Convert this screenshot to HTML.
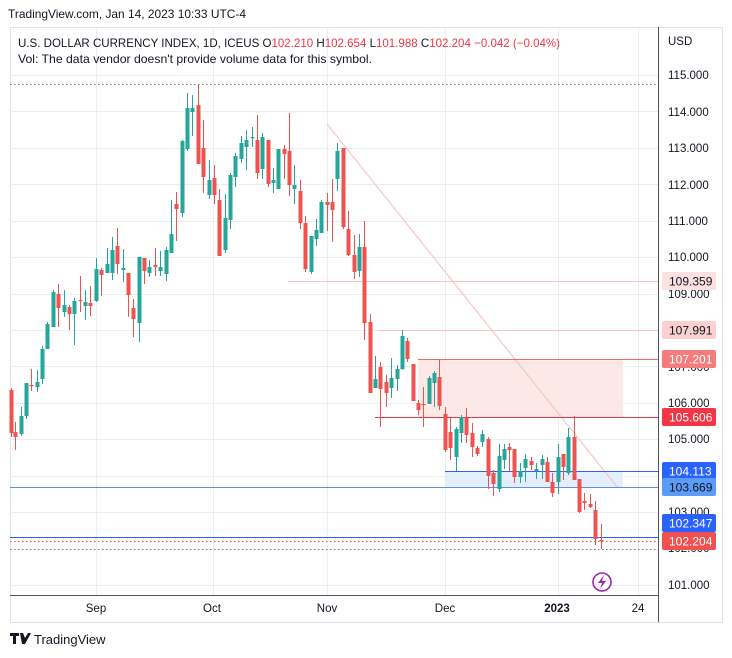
<!DOCTYPE html>
<html><head><meta charset="utf-8"><style>
html,body{margin:0;padding:0;background:#fff;width:732px;height:658px;overflow:hidden}
svg{display:block;font-family:"Liberation Sans",sans-serif}
</style></head><body>
<svg id="s" width="732" height="658" viewBox="0 0 732 658" xmlns="http://www.w3.org/2000/svg">
<rect width="732" height="658" fill="#fff"/>
<text x="8" y="18" font-size="12" fill="#131722" textLength="238" lengthAdjust="spacingAndGlyphs">TradingView.com, Jan 14, 2023 10:33 UTC-4</text>
<rect x="10.5" y="27.5" width="712" height="595" fill="none" stroke="#e0e3eb"/>
<g id="grid" stroke="#e9eef3" stroke-width="1"></g>
<rect x="418" y="359" width="205" height="58" fill="#fde8e8"/>
<rect x="445" y="471" width="178" height="16" fill="#e3effd"/>
<line x1="327" y1="124" x2="618" y2="488" stroke="#f7c5c5" stroke-width="1.2"/>
<line x1="10" y1="84.5" x2="658" y2="84.5" stroke="#787b86" stroke-dasharray="1.5,2.5"/>
<line x1="288" y1="281.5" x2="658" y2="281.5" stroke="#f8c4c4"/>
<line x1="378" y1="330.5" x2="658" y2="330.5" stroke="#f8c4c4"/>
<line x1="418" y1="359.5" x2="658" y2="359.5" stroke="#ef6b6b"/>
<line x1="375" y1="417.5" x2="658" y2="417.5" stroke="#e53945"/>
<line x1="445" y1="471.5" x2="658" y2="471.5" stroke="#2962ff"/>
<line x1="10" y1="487.5" x2="658" y2="487.5" stroke="#5b8fe6"/>
<line x1="10" y1="537.5" x2="658" y2="537.5" stroke="#2962ff"/>
<line x1="10" y1="541.5" x2="658" y2="541.5" stroke="#f0504f" stroke-dasharray="1.5,2.5"/>
<line x1="10" y1="549.5" x2="658" y2="549.5" stroke="#787b86" stroke-dasharray="1.5,2.5"/>
<g id="c"></g>
<line x1="10" y1="595.5" x2="658" y2="595.5" stroke="#50535e"/>
<line x1="658.5" y1="27" x2="658.5" y2="622" stroke="#50535e"/>
<g font-size="11.5" fill="#131722" id="ax"></g>
<g font-size="11.5" fill="#131722" text-anchor="middle">
<text x="96" y="612">Sep</text><text x="212" y="612">Oct</text><text x="327" y="612">Nov</text><text x="445" y="612">Dec</text><text x="557" y="612" font-weight="bold">2023</text><text x="638" y="612">24</text>
</g>
<text x="668" y="45" font-size="11.5" fill="#131722">USD</text>
<g font-size="12" id="lbl"></g>
<text x="18" y="47" font-size="12" fill="#131722" textLength="542" lengthAdjust="spacingAndGlyphs">U.S. DOLLAR CURRENCY INDEX, 1D, ICEUS  O<tspan fill="#f23645">102.210</tspan>  H<tspan fill="#f23645">102.654</tspan>  L<tspan fill="#f23645">101.988</tspan>  C<tspan fill="#f23645">102.204</tspan>  <tspan fill="#f23645">−0.042 (−0.04%)</tspan></text>
<text x="18" y="63" font-size="12" fill="#131722" textLength="354" lengthAdjust="spacingAndGlyphs">Vol: The data vendor doesn't provide volume data for this symbol.</text>
<circle cx="602" cy="582" r="9" fill="#fff" stroke="#9c27b0" stroke-width="1.6"/>
<path d="M604 575 L598 583 L602 583 L600 589 L606 581 L602 581 Z" fill="#9c27b0"/>
<g transform="translate(10,633)"><path d="M0 0h9v3h-3v8h-3v-8h-3z M10 0h3l2 5 3-5h3l-6 11h-3z" fill="#131722"/></g>
<text x="34" y="644" font-size="13" fill="#131722">TradingView</text>
</svg>
<script>
const NS="http://www.w3.org/2000/svg";
function el(p,t,a,txt){const e=document.createElementNS(NS,t);for(const k in a)e.setAttribute(k,a[k]);if(txt!==undefined)e.textContent=txt;p.appendChild(e);return e;}
const g=document.getElementById('grid');
for(let p=101;p<=115;p++){const y=75+(115-p)*36.43;el(g,'line',{x1:10,x2:658,y1:Math.round(y)+.5,y2:Math.round(y)+.5});}
[96,213,327,445,558,638].forEach(x=>el(g,'line',{x1:x+.5,x2:x+.5,y1:27,y2:595}));
const ax=document.getElementById('ax');
[[115,75],[114,112],[113,148],[112,185],[111,221],[110,257],[109,294],[107,367],[106,403],[105,439],[103,512],[102,548],[101,585]].forEach(([p,y])=>el(ax,'text',{x:668,y:y+4},p+'.000'));
const lb=document.getElementById('lbl');
[[281,'109.359','#fde0e0','#131722'],[330,'107.991','#fcd0d0','#131722'],[359,'107.201','#f47c7c','#fff'],[417,'105.606','#f23645','#fff'],[471,'104.113','#2962ff','#fff'],[487,'103.669','#5b9cf6','#131722'],[523,'102.347','#2962ff','#fff'],[541,'102.204','#f0504f','#fff']].forEach(([y,t,bg,fg])=>{el(lb,'rect',{x:662,y:y-9,width:54,height:18,rx:2,fill:bg});el(lb,'text',{x:669,y:y+4.5,fill:fg},t);});
const C=[[11,390,433,388,437],[15,432,437,422,450],[21,434,416,407,436],[26,416,383,383,419],[31,385,385.5,369,391],[37,387,382,370,392],[42,379,349,346,384],[47,349,324,322,349],[53,327,292,290,327],[58,294,308,284,327],[64,312,305,290,317],[69,307,314,305,330],[74,314,301,298,345],[80,300,300.8,276,312],[85,306,302,290,320],[90,303,306,286,316],[96,301,269,258,302],[101,270,275,268,296],[107,273,264,248,273],[112,273,250,237,280],[117,246,264,228,274],[123,270,268,249,282],[128,273,295,273,317],[133,308,319,299,337],[139,323,257,257,342],[144,258,271,258,284],[149,273,267,260,277],[155,265,267,248,276],[160,271,267,251,276],[166,274,250,247,281],[171,253,234,200,253],[176,204,209,192,241],[182,213,141,140,217],[187,149,108,93,151],[192,112,108,95,136],[198,105,164,84,164],[203,148,177,120,193],[209,195,180,160,199],[214,178,195,165,204],[219,200,256,189,256],[225,250,218,194,253],[230,220,175,173,229],[235,177,156,153,187],[241,159,143,136,163],[246,147,140,130,170],[252,137.5,137,127,147],[257,140,173,115,179],[262,169,137,133,179],[268,140,184,140,187],[273,183,180,168,193],[278,189,149,149,189],[284,149,154,145,179],[289,151,185,113,196],[294,189,185,165,204],[300,191,223,180,229],[305,223,269,216,272],[311,272,236,236,274],[316,239,230,219,246],[321,233,202,200,233],[327,202,205,193,231],[332,202,210,179,242],[337,179,151,143,191],[343,148,227,148,229],[348,229,255,211,256],[354,255,272,235,279],[359,271,247,234,277],[364,247,323,221,340],[370,322,393,314,393],[375,388,379,356,388],[380,367,389,362,427],[386,382,393,375,407],[391,388,378,358,398],[397,379,369,365,391],[402,369,336,330,370],[407,341,359,338,362],[413,364,401,364,401],[418,403,410,400,415],[423,404,404.8,387,427],[429,404,378,376,404],[434,383,373,371,407],[439,377,406,359,410],[445,414,450,407,452],[450,432,448,417,460],[456,457,429,427,471],[461,433,417,415,443],[466,418,435,408,443],[472,433,447,423,457],[477,448,454,446,456],[482,442,434,430,447],[488,439,476,437,489],[493,473,484,470,496],[499,489,456,444,492],[504,460,449,444,469],[509,447,450,443,471],[514,449,477,449,483],[520,477,471,463,483],[525,468,459,454,482],[531,461,465,457,470],[536,471,469,463,479],[542,465,459,455,479],[547,462,482,457,482],[552,482,493,473,497],[558,482,457,444,494],[563,454,467,454,480],[568,473,437,428,475],[574,437,480,416,480],[579,479,512,479,513],[584,501,503,493,510],[590,504,507,494,508],[595,510,539,501,545],[601,540,541,524,549]];
const cg=document.getElementById('c');
C.forEach(([x,o,c,h,l])=>{const col=c<o?'#26a69a':'#ef5350';el(cg,'line',{x1:x+.5,x2:x+.5,y1:h,y2:l,stroke:col,'stroke-width':1});const t=Math.min(o,c),b=Math.max(o,c);el(cg,'rect',{x:x-1.5,y:t,width:4,height:Math.max(1.2,b-t),fill:col});});
</script>
</body></html>
